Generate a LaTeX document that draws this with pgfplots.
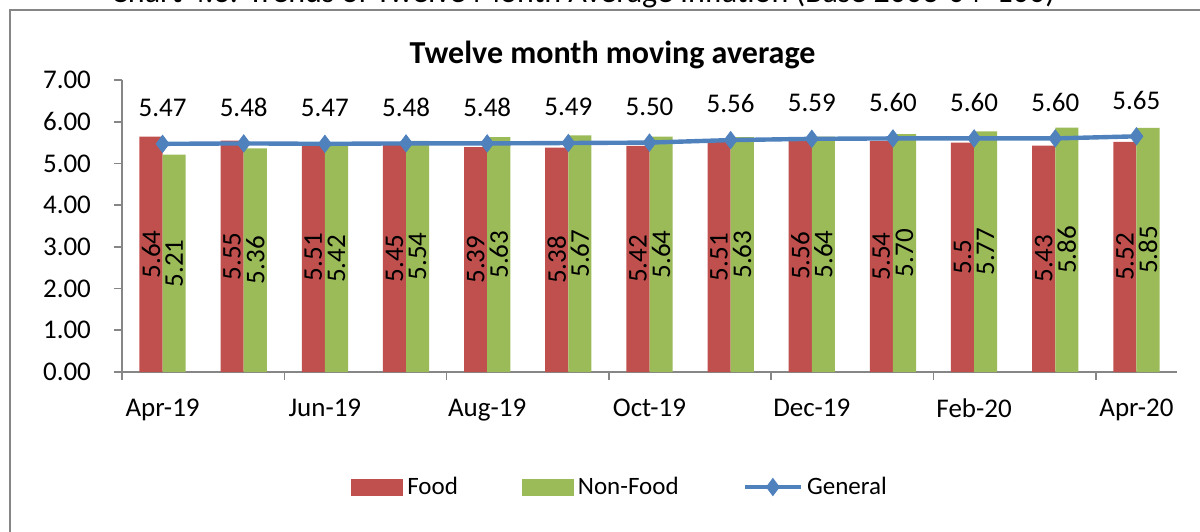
\documentclass[border=0pt]{standalone}
\usepackage{pgfplots}
\pgfplotsset{compat=1.18}
\usepackage{fontspec}
\setmainfont{Carlito}

\definecolor{foodred}{HTML}{C0504D}
\definecolor{nonfoodgreen}{HTML}{9BBB59}
\definecolor{genblue}{HTML}{4F81BD}
\definecolor{axisgray}{HTML}{868686}

\pgfplotsset{
    barlegend/.style={legend image code/.code={\fill[##1] (0pt,-4.25pt) rectangle (26pt,4.25pt);}},
    linelegend/.style={legend image code/.code={\draw[mark repeat=2, mark phase=2, ##1]
        plot coordinates {(0pt,0pt) (14pt,0pt) (28pt,0pt)};}},
    % label rotated and centred inside the bar; #1 = horizontal offset of the bar
    midlabel/.style={
        point meta=explicit symbolic,
        nodes near coords={\rotatebox{90}{\pgfplotspointmeta}},
        visualization depends on=y \as \rawy,
        every node near coord/.append style={shift={(axis direction cs:#1,-\rawy/2)},
            anchor=center, font=\fontsize{13.5}{15}\selectfont, black}},
}

\begin{document}
\begin{tikzpicture}
\useasboundingbox (0pt,0pt) rectangle (600pt,265.5pt);
% outer chart frame (cut by the page on the right and bottom)
\draw[axisgray, line width=1pt] (5pt,-20pt) -- (5pt,260.5pt) -- (620pt,260.5pt);
% caption above the frame, mostly cut off
\node[anchor=base, font=\fontsize{16}{18}\selectfont, inner sep=0pt] at (291.5pt,264pt)
  {Chart 4.3: Trends of Twelve Month Average Inflation (Base 2003-04=100)};

\begin{axis}[
    at={(61pt,79.5pt)}, anchor=south west,
    scale only axis,
    width=527.5pt, height=146pt,
    xmin=-0.5, xmax=12.5,
    ymin=0, ymax=7,
    axis x line*=bottom, axis y line*=left,
    axis line style={axisgray, line width=0.8pt, -},
    tick align=outside,
    ytick={0,1,...,7},
    yticklabel style={/pgf/number format/fixed, /pgf/number format/fixed zerofill,
        /pgf/number format/precision=2, xshift=-8pt},
    /pgf/number format/assume math mode=true,
    xtick={0,2,...,12},
    xticklabels={Apr-19, Jun-19, Aug-19, Oct-19, Dec-19, Feb-20, Apr-20},
    minor xtick={-0.5,1.5,...,11.5},
    major tick length=4pt,
    minor tick length=4pt,
    x tick style={draw=none},
    minor x tick style={axisgray, line width=0.8pt, draw=axisgray},
    y tick style={axisgray, line width=0.8pt},
    tick label style={font=\fontsize{13.5}{15}\selectfont},
    xticklabel style={yshift=-6pt},
    title={\textbf{Twelve month moving average}},
    title style={font=\fontsize{16}{18}\selectfont, at={(0.465,1)}, yshift=-4pt},
    legend columns=3,
    legend style={draw=none, fill=none, at={(0.473,-0.394)}, anchor=center,
        font=\fontsize{12.5}{14}\selectfont,
        /tikz/every even column/.append style={column sep=30pt}},
    clip=false,
]

% Food
\addplot[fill=foodred, draw=none, ybar, bar width=0.285, bar shift=-0.1425,
    midlabel=-0.1425, barlegend] coordinates {
    (0,5.64)[5.64] (1,5.55)[5.55] (2,5.51)[5.51] (3,5.45)[5.45]
    (4,5.39)[5.39] (5,5.38)[5.38] (6,5.42)[5.42] (7,5.51)[5.51]
    (8,5.56)[5.56] (9,5.54)[5.54] (10,5.50)[5.5] (11,5.43)[5.43]
    (12,5.52)[5.52]
};
\addlegendentry{Food}

% Non-Food
\addplot[fill=nonfoodgreen, draw=none, ybar, bar width=0.285, bar shift=0.1425,
    midlabel=0.1425, barlegend] coordinates {
    (0,5.21)[5.21] (1,5.36)[5.36] (2,5.42)[5.42] (3,5.54)[5.54]
    (4,5.63)[5.63] (5,5.67)[5.67] (6,5.64)[5.64] (7,5.63)[5.63]
    (8,5.64)[5.64] (9,5.70)[5.70] (10,5.77)[5.77] (11,5.86)[5.86]
    (12,5.85)[5.85]
};
\addlegendentry{Non-Food}

% General
\addplot[genblue, line width=2.2pt, mark=diamond*, mark size=4.3pt,
    mark options={fill=genblue, draw=genblue, line width=0.4pt},
    point meta=explicit symbolic, nodes near coords,
    every node near coord/.append style={anchor=south, yshift=10pt,
        font=\fontsize{13.5}{15}\selectfont, black},
    linelegend] coordinates {
    (0,5.47)[5.47] (1,5.48)[5.48] (2,5.47)[5.47] (3,5.48)[5.48]
    (4,5.48)[5.48] (5,5.49)[5.49] (6,5.50)[5.50] (7,5.56)[5.56]
    (8,5.59)[5.59] (9,5.60)[5.60] (10,5.60)[5.60] (11,5.60)[5.60]
    (12,5.65)[5.65]
};
\addlegendentry{General}

\end{axis}
\end{tikzpicture}
\end{document}
